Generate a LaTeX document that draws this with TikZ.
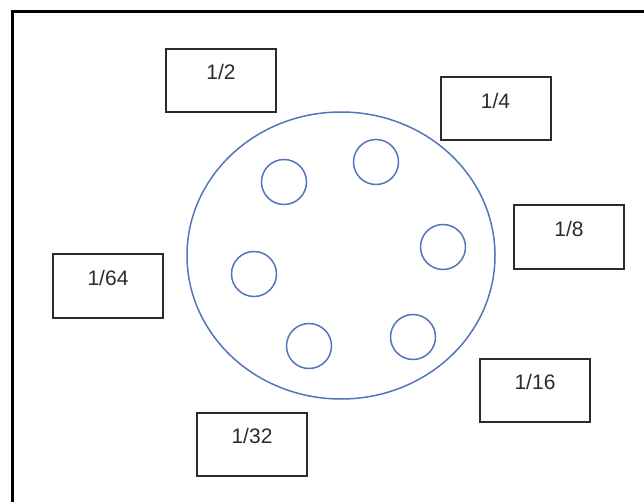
\documentclass[tikz,border=0pt]{standalone}
\usepackage{fontspec}
\setmainfont{Liberation Sans}
\usepackage{xcolor}
\usetikzlibrary{shapes.geometric}

\definecolor{plateblue}{HTML}{5276B9}
\definecolor{boxgray}{HTML}{2B2B2B}

\begin{document}
\begin{tikzpicture}[
  x=1pt, y=-1pt,
  box/.style={draw=boxgray, line width=2pt, minimum width=110pt,
    inner sep=0pt, text height=31pt, text depth=32pt,
    font=\fontsize{21}{25}\selectfont, text=boxgray},
  hole/.style={draw=plateblue, line width=1.5pt, circle, minimum size=45pt,
    inner sep=0pt},
  plate/.style={draw=plateblue, line width=1.5pt, ellipse,
    minimum width=308pt, minimum height=287pt, inner sep=0pt}
]
  \useasboundingbox (0,0) rectangle (644,502);
  % frame
  \draw[line width=3pt] (12,502) -- (12,11.5) -- (644,11.5);

  % plate with holes
  \node[plate] (plate) at (341,255.5) {};
  \node[hole] (h1) at (284,182) {};
  \node[hole] (h2) at (376,162) {};
  \node[hole] (h3) at (443,247) {};
  \node[hole] (h4) at (254,274) {};
  \node[hole] (h5) at (309,346) {};
  \node[hole] (h6) at (413,337) {};

  % fractions
  \node[box] (half) at (221,80.5) {1/2};
  \node[box] (quarter) at (495.5,109) {1/4};
  \node[box] (eighth) at (569,237) {1/8};
  \node[box] (sixteenth) at (535,390) {1/16};
  \node[box] (thirtysecond) at (252,444) {1/32};
  \node[box] (sixtyfourth) at (108,286) {1/64};
\end{tikzpicture}
\end{document}
